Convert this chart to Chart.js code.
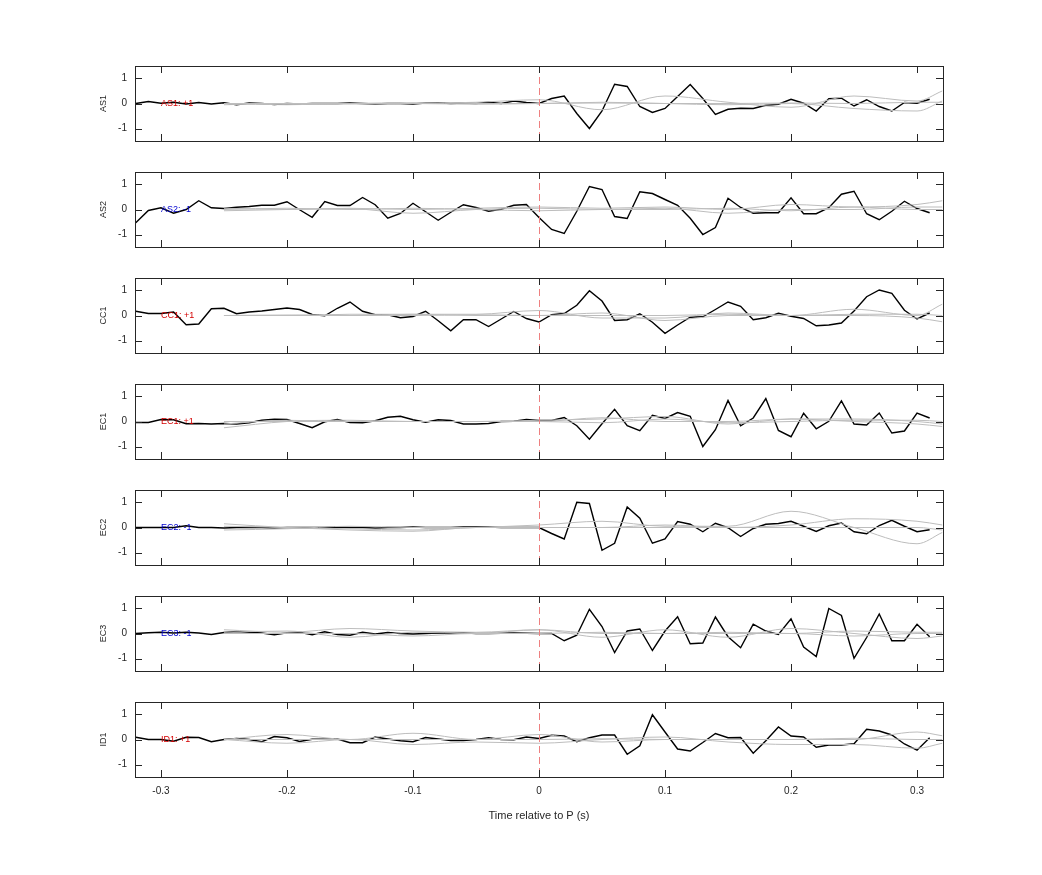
<!DOCTYPE html>
<html><head><meta charset="utf-8">
<script src="https://cdn.jsdelivr.net/npm/chart.js@4/dist/chart.umd.min.js"></script>
<style>body{margin:0;background:#fff;width:1042px;height:875px;position:relative;overflow:hidden}canvas{position:absolute;left:0}</style>
</head><body>
<script>
const time=[-0.32,-0.31,-0.30,-0.29,-0.28,-0.27,-0.26,-0.25,-0.24,-0.23,-0.22,-0.21,-0.20,-0.19,-0.18,-0.17,-0.16,-0.15,-0.14,-0.13,-0.12,-0.11,-0.10,-0.09,-0.08,-0.07,-0.06,-0.05,-0.04,-0.03,-0.02,-0.01,0,
0.01,0.02,0.03,0.04,0.05,0.06,0.07,0.08,0.09,0.10,0.11,0.12,0.13,0.14,0.15,0.16,0.17,0.18,0.19,0.20,0.21,0.22,0.23,0.24,0.25,0.26,0.27,0.28,0.29,0.30,0.31];
const grayTime=[-0.25,-0.2,-0.15,-0.1,-0.05,0,0.05,0.1,0.15,0.2,0.25,0.3,0.32];
const stations=["AS1","AS2","CC1","EC1","EC2","EC3","ID1"];
const polarity=["+1","-1","+1","+1","-1","-1","+1"];
const AS1=[0,0.08,0.01,0.05,-0.02,0.04,-0.02,0.03,-0.05,0.02,0,-0.04,0,-0.02,0,0,0,0.02,0,-0.02,0,0,-0.02,0.02,0.03,0,0.02,0,0.05,0,0.1,0.04,0,
0.2,0.3,-0.4,-1.0,-0.3,0.77,0.68,-0.12,-0.36,-0.2,0.28,0.76,0.2,-0.44,-0.23,-0.19,-0.2,-0.07,-0.03,0.17,0.01,-0.3,0.19,0.21,-0.1,0.15,-0.12,-0.3,0.04,0.01,0.17];
const AS2=[-0.53,-0.04,0.07,-0.15,0,0.35,0.07,0.04,0.09,0.12,0.17,0.17,0.31,-0.01,-0.31,0.32,0.16,0.16,0.48,0.19,-0.35,-0.16,0.25,-0.09,-0.43,-0.11,0.19,0.08,-0.07,0.01,0.17,0.2,-0.32,
-0.8,-0.96,-0.07,0.92,0.8,-0.28,-0.36,0.71,0.64,0.4,0.17,-0.35,-1.0,-0.72,0.45,0.08,-0.15,-0.13,-0.13,0.47,-0.17,-0.17,0.07,0.61,0.73,-0.17,-0.41,-0.07,0.33,0.04,-0.13];
const CC1=[0.17,0.08,0.08,0.14,-0.37,-0.34,0.27,0.29,0.07,0.14,0.18,0.24,0.3,0.24,0.04,-0.01,0.29,0.54,0.17,0.03,0.03,-0.09,-0.04,0.17,-0.21,-0.61,-0.17,-0.17,-0.44,-0.14,0.16,-0.12,-0.26,
0.03,0.08,0.41,0.99,0.58,-0.2,-0.17,0.07,-0.27,-0.71,-0.38,-0.07,-0.05,0.24,0.54,0.37,-0.17,-0.09,0.09,-0.03,-0.12,-0.41,-0.38,-0.3,0.18,0.75,1.02,0.89,0.21,-0.14,0.1];
const EC1=[-0.04,-0.04,0.08,0.07,-0.09,-0.08,-0.1,-0.08,-0.1,-0.05,0.05,0.09,0.08,-0.08,-0.25,-0.01,0.08,-0.04,-0.05,0.03,0.17,0.21,0.07,-0.03,0.07,0.04,-0.1,-0.1,-0.08,0,0.01,0.08,0.04,
0.04,0.16,-0.17,-0.71,-0.09,0.49,-0.17,-0.37,0.25,0.12,0.36,0.21,-1.0,-0.33,0.84,-0.17,0.14,0.92,-0.36,-0.61,0.33,-0.29,0.01,0.82,-0.1,-0.14,0.34,-0.46,-0.38,0.34,0.14];
const EC2=[0,0,0,0,0.07,0,0,-0.02,0,0,0,-0.02,0,0,0,0,0.02,0,0,-0.02,0,0,0.02,0,0,0,0.02,0.02,0.02,0,0,0,0,
-0.24,-0.46,1.01,0.96,-0.91,-0.63,0.82,0.37,-0.63,-0.46,0.24,0.13,-0.17,0.17,-0.01,-0.36,-0.04,0.13,0.16,0.25,0.05,-0.16,0.07,0.18,-0.17,-0.25,0.08,0.29,0.05,-0.17,-0.09];
const EC3=[0,0.03,0.05,0.02,0.05,0.02,-0.04,0.04,0.08,0.05,0.02,-0.05,0.03,0.05,-0.05,0.07,-0.04,-0.07,0.05,-0.02,0.04,0,-0.02,0,0.02,0.01,0.03,0,0,0.01,0.02,0.01,0,
0,-0.29,-0.07,0.97,0.28,-0.76,0.1,0.18,-0.68,0.1,0.67,-0.41,-0.38,0.66,-0.13,-0.57,0.37,0.1,-0.04,0.59,-0.54,-0.92,1.0,0.72,-0.99,-0.16,0.78,-0.29,-0.29,0.37,-0.13];
const ID1=[0.09,0,0,-0.07,0.09,0.08,-0.09,0,0.04,0,-0.09,0.12,0.07,-0.08,0.01,0.01,0.02,-0.13,-0.13,0.1,0.02,-0.05,-0.09,0.08,0.02,-0.04,-0.04,0,0.07,0,-0.01,0.1,0.04,
0.17,0.14,-0.09,0.07,0.18,0.18,-0.59,-0.25,0.99,0.3,-0.38,-0.46,-0.12,0.24,0.07,0.08,-0.55,-0.05,0.5,0.14,0.1,-0.31,-0.22,-0.22,-0.17,0.41,0.34,0.18,-0.18,-0.43,0.07];
const gray={
AS1:[[0,0,-0.02,0,0.05,0.15,-0.25,0.3,0.05,-0.15,0.3,0.1,0.5],[0,-0.05,0,0.03,0,0,0.05,0,-0.05,0,-0.2,-0.3,0.1],[-0.05,0,0,0,-0.03,0,0.02,0,0,0.02,0,0.05,0.05]],
AS2:[[0.05,0,0.05,0,0.05,0.1,0.05,0.1,0,0.2,0.1,0.2,0.35],[-0.05,0,0.03,-0.15,0,0.05,0,0.05,-0.15,0,0,0.1,0.1],[0,0.05,0,0.05,0,-0.05,0,0,0.05,-0.05,0.1,0,0]],
CC1:[[0,0,0.05,0.05,0.05,0.2,-0.1,-0.1,0.1,0,0.25,0,0.45],[0,0,0,0.05,0,0,0.1,-0.2,0,0,0,-0.1,-0.25],[0,0.02,0,0,0.03,0,0,0,0.05,0,0.05,0.05,0]],
EC1:[[-0.25,0,0.05,0,0,0.05,0.1,0.2,-0.1,0.1,0.1,0,-0.1],[-0.1,0.05,0,0,0,0,0.15,0,0,0.1,0,-0.1,-0.2],[0,0,0,0,0,0,-0.05,0.1,-0.05,0,0.05,0.05,0]],
EC2:[[0.15,0,-0.05,-0.1,0,0.1,0.25,0.05,0.05,0.65,0,-0.65,-0.2],[-0.1,-0.05,0.05,0,0,0,0,0.1,0,0.1,0.35,0.25,0.1],[0.05,0,-0.1,-0.15,0,0,0,0,0,0,0,0,-0.1]],
EC3:[[0.15,0.05,0.2,0.1,0.05,0.15,-0.15,0.15,-0.15,0.2,0,-0.2,-0.1],[0.05,0.1,-0.15,0.05,0,0.15,0,0,0.05,0,0.1,0.05,0.05],[0,0,0,-0.1,0,0,0.05,0,0,0,-0.1,0,0]],
ID1:[[0,0.2,0,0.25,0,0.2,-0.1,0,0,0,0,0.3,0.15],[0,-0.15,0,-0.2,-0.1,-0.15,0,0.1,-0.1,-0.2,-0.2,-0.35,-0.15],[0,0,0,0,0,0,0.03,0,0,0,0.05,0,0]]
};
const black={AS1,AS2,CC1,EC1,EC2,EC3,ID1};
const xTicks=[-0.3,-0.2,-0.1,0,0.1,0.2,0.3];
const yTicks=[-1,0,1];

const FONT='"Liberation Sans", Arial, sans-serif';
const deco={id:'deco',afterDatasetsDraw(c,a,o){
  const ctx=c.ctx,ar=c.chartArea,x=c.scales.x,y=c.scales.y;
  ctx.save();
  ctx.strokeStyle='#ee8080';ctx.lineWidth=1;ctx.setLineDash([7,4]);
  const x0=Math.round(x.getPixelForValue(0))+0.5;
  ctx.beginPath();ctx.moveTo(x0,ar.top);ctx.lineTo(x0,ar.bottom);ctx.stroke();
  ctx.setLineDash([]);
  ctx.font='9px '+FONT;ctx.fillStyle=o.pos?'#d40000':'#0000d0';ctx.textBaseline='middle';ctx.textAlign='left';
  ctx.fillText(o.label,x.getPixelForValue(-0.3),y.getPixelForValue(0));
  // y title
  ctx.save();ctx.translate(104,(ar.top+ar.bottom)/2);ctx.rotate(-Math.PI/2);
  ctx.fillStyle='#262626';ctx.textAlign='center';ctx.fillText(o.title,0,0);ctx.restore();
  ctx.strokeStyle='#262626';ctx.lineWidth=1;
  ctx.strokeRect(Math.round(ar.left)+0.5,Math.round(ar.top)+0.5,Math.round(ar.right-ar.left),Math.round(ar.bottom-ar.top));
  const t=7;
  ctx.beginPath();
  xTicks.forEach(v=>{const p=Math.round(x.getPixelForValue(v))+0.5;ctx.moveTo(p,ar.top);ctx.lineTo(p,ar.top+t);ctx.moveTo(p,ar.bottom);ctx.lineTo(p,ar.bottom-t);});
  yTicks.forEach(v=>{const p=Math.round(y.getPixelForValue(v))+0.5;ctx.moveTo(ar.left,p);ctx.lineTo(ar.left+t,p);ctx.moveTo(ar.right,p);ctx.lineTo(ar.right-t,p);});
  ctx.stroke();ctx.restore();
}};
Chart.register(deco);

stations.forEach((s,i)=>{
  const last=i===stations.length-1;
  const cv=document.createElement('canvas');
  const h=last?139:106;
  cv.style.top=(52+106*i)+'px';cv.style.width='1042px';cv.style.height=h+'px';
  cv.width=1042;cv.height=h;
  document.body.appendChild(cv);
  const ds=gray[s].map(g=>({data:grayTime.map((t,k)=>({x:t,y:g[k]})),borderColor:'#bdbdbd',borderWidth:1,pointRadius:0,cubicInterpolationMode:'monotone',tension:0.4}));
  ds.push({data:time.map((t,k)=>({x:t,y:black[s][k]})),borderColor:'#000',borderWidth:1.4,pointRadius:0,tension:0});
  new Chart(cv,{type:'line',data:{datasets:ds},options:{
    responsive:false,animation:false,devicePixelRatio:1,
    layout:{padding:{top:10,right:99,left:0,bottom:0}},
    plugins:{legend:{display:false},tooltip:{enabled:false},deco:{label:s+': '+polarity[i],pos:polarity[i]==='+1',title:s}},
    scales:{
      x:{type:'linear',min:-0.3206,max:0.3206,
        afterBuildTicks:sc=>{sc.ticks=xTicks.map(v=>({value:v}));},
        afterFit:sc=>{sc.height=last?50:17;},
        grid:{display:false,drawTicks:false},border:{display:false},
        ticks:{display:last,padding:8,color:'#262626',font:{size:10,family:FONT},maxRotation:0,callback:v=>String(v)},
        title:{display:last,text:'Time relative to P (s)',color:'#262626',font:{size:11,family:FONT},padding:{top:4}}},
      y:{min:-1.5,max:1.5,
        afterBuildTicks:sc=>{sc.ticks=yTicks.map(v=>({value:v}));},
        afterFit:sc=>{sc.width=135;},
        grid:{display:false,drawTicks:false},border:{display:false},
        ticks:{padding:8,color:'#262626',font:{size:10,family:FONT}},
        title:{display:false}}
    }}});
});
</script>
</body></html>
